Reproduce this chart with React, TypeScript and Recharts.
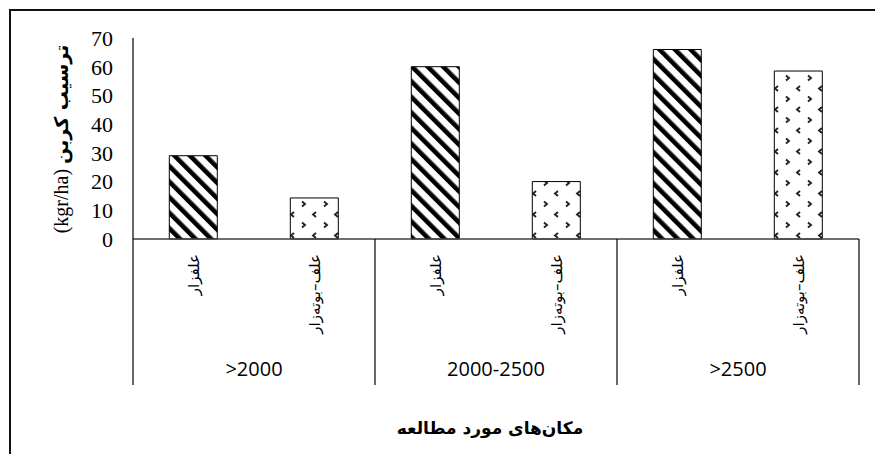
import React from "react";
import { BarChart, Bar, XAxis, YAxis, Cell } from "recharts";

const categories = ["علفزار", "علف–بوته‌زار", "علفزار", "علف–بوته‌زار", "علفزار", "علف–بوته‌زار"];
const groups = [">2000", "2000-2500", ">2500"];
const carbon = [29, 14.3, 60, 20, 66, 58.5];
const yTicks = [0, 10, 20, 30, 40, 50, 60, 70];
const yTitleUnit = "(kgr/ha) ";
const yTitleText = "ترسیب کربن";
const xTitle = "مکان‌های مورد مطالعه";

const data = categories.map((name, i) => ({
  key: `c${i}`,
  name,
  group: groups[Math.floor(i / 2)],
  value: carbon[i],
}));

const ARABIC_FONT = "'DejaVu Sans', sans-serif";

const CategoryTick = (props: any) => {
  const { x, y, index, width, visibleTicksCount } = props;
  const count = visibleTicksCount || data.length;
  const bw = (width || 726) / count;
  const d = data[index];
  if (!d) return null;
  return (
    <g>
      <text
        transform={`translate(${x},${y + 15}) rotate(-90)`}
        textAnchor="end"
        dominantBaseline="central"
        fontFamily={ARABIC_FONT}
        fontSize={15}
        fill="#000"
      >
        {d.name}
      </text>
      {index === 0 && (
        <line x1={x - bw / 2} x2={x - bw / 2} y1={y} y2={y + 146} stroke="#000" strokeWidth={1.2} />
      )}
      {index % 2 === 1 && (
        <>
          <line x1={x + bw / 2} x2={x + bw / 2} y1={y} y2={y + 146} stroke="#000" strokeWidth={1.2} />
          <text
            x={x - bw / 2}
            y={y + 137}
            textAnchor="middle"
            fontFamily="'Open Sans', sans-serif"
            fontSize={20}
            fill="#000"
          >
            {d.group}
          </text>
        </>
      )}
    </g>
  );
};

export default function App() {
  return (
    <div style={{ position: "absolute", left: 0, top: 0, width: 875, height: 454, background: "#fff", overflow: "hidden" }}>
      <BarChart
        width={875}
        height={454}
        data={data}
        margin={{ top: 38, right: 16, left: 73, bottom: 65 }}
        barCategoryGap="30%"
      >
        <defs>
          <pattern id="stripes" patternUnits="userSpaceOnUse" width={11} height={11} patternTransform="rotate(-45)">
            <rect width={11} height={11} fill="#fff" />
            <rect x={0} y={0} width={4.6} height={11} fill="#000" />
          </pattern>
          <pattern id="chevrons" patternUnits="userSpaceOnUse" width={22} height={21}>
            <rect width={22} height={21} fill="#fff" />
            <polyline points="8,2 5,4.5 8,7" fill="none" stroke="#222" strokeWidth={1.9} />
            <polyline points="16,12.5 19,15 16,17.5" fill="none" stroke="#222" strokeWidth={1.9} />
          </pattern>
        </defs>
        <XAxis
          dataKey="key"
          height={150}
          interval={0}
          tickLine={false}
          tickSize={0}
          tickMargin={0}
          axisLine={{ stroke: "#404040", strokeWidth: 1.5 }}
          tick={<CategoryTick />}
        />
        <XAxis xAxisId="top" dataKey="key" orientation="top" height={0} tick={false} tickLine={false} axisLine={{ stroke: "#808080", strokeWidth: 1.5 }} />
        <YAxis
          domain={[0, 70]}
          ticks={yTicks}
          interval={0}
          width={60}
          tickLine={false}
          tickSize={0}
          tickMargin={20}
          axisLine={{ stroke: "#000", strokeWidth: 1.2 }}
          tick={{ fontFamily: "'Liberation Serif', serif", fontSize: 22, fill: "#000" }}
        />
        <YAxis yAxisId="right" orientation="right" width={0} tick={false} tickLine={false} axisLine={{ stroke: "#000", strokeWidth: 1.2 }} />
        <Bar dataKey="value" stroke="#000" strokeWidth={1} isAnimationActive={false}>
          {data.map((d, i) => (
            <Cell key={d.key} fill={i % 2 === 0 ? "url(#stripes)" : "url(#chevrons)"} />
          ))}
        </Bar>
      </BarChart>
      <svg width={875} height={454} style={{ position: "absolute", left: 0, top: 0, pointerEvents: "none" }}>
        <line x1={9} y1={10} x2={875} y2={10} stroke="#111" strokeWidth={2} />
        <line x1={10} y1={9} x2={10} y2={454} stroke="#111" strokeWidth={2} />
        <text
          transform="translate(61,139) rotate(-90)"
          textAnchor="middle"
          dominantBaseline="central"
          fill="#000"
        >
          <tspan fontFamily="'Liberation Serif', serif" fontSize={20}>{yTitleUnit}</tspan>
          <tspan fontFamily={ARABIC_FONT} fontWeight="bold" fontSize={19}>{yTitleText}</tspan>
        </text>
        <text x={490} y={434} textAnchor="middle" fontFamily={ARABIC_FONT} fontWeight="bold" fontSize={17} fill="#000">
          {xTitle}
        </text>
      </svg>
    </div>
  );
}
